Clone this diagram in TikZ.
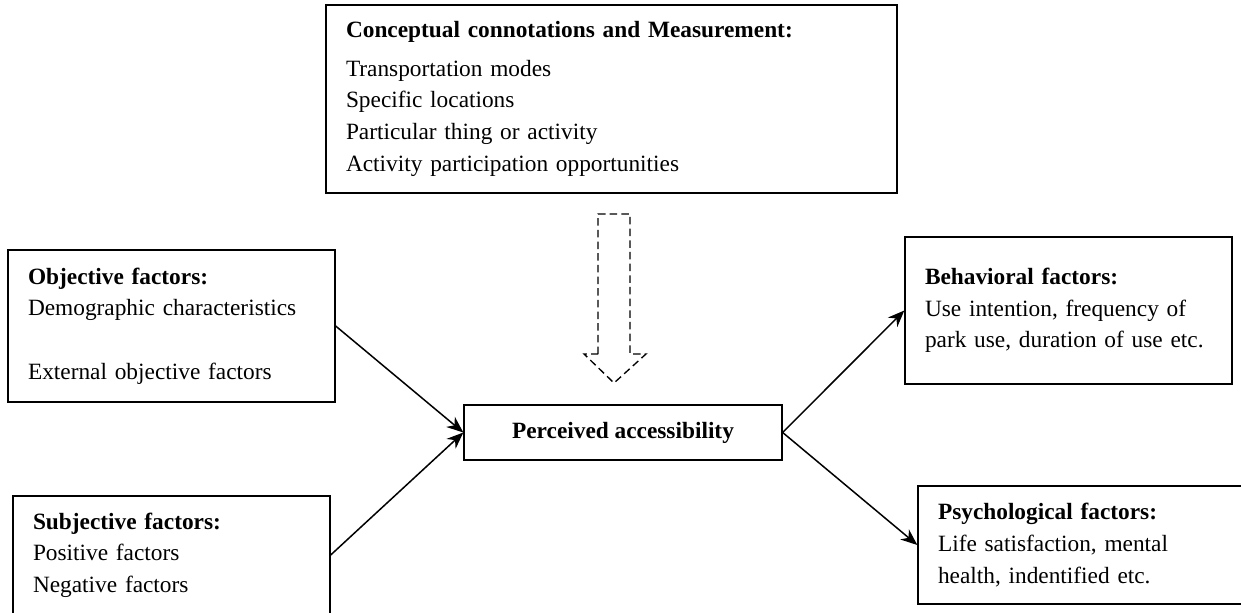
\documentclass[tikz,border=0pt]{standalone}
\usepackage{fontspec}
\setmainfont{Liberation Serif}
\usetikzlibrary{arrows.meta}

\tikzset{
  factor/.style={draw, line width=0.8pt, align=left, inner xsep=12pt, inner ysep=0pt,
                 font=\fontsize{14}{19}\selectfont},
  link/.style={line width=0.9pt, -{Stealth[length=10pt,width=8pt]}},
  hollow/.style={line width=0.8pt, dash pattern=on 4.5pt off 2.5pt},
}

\begin{document}
\begin{tikzpicture}[x=0.6pt,y=-0.6pt]

\useasboundingbox (0,0) rectangle (1241,613);

% boxes
\node[factor, text width=318.6pt, minimum width=342.6pt, minimum height=112.8pt] (conc) at (611.5,99)
  {\textbf{Conceptual connotations and Measurement:}\\[4pt]
   Transportation modes\\ Specific locations\\ Particular thing or activity\\
   Activity participation opportunities};

\node[factor, text width=172.2pt, minimum width=196.2pt, minimum height=91.2pt] (obj) at (171.5,326)
  {\textbf{Objective factors:}\\ Demographic characteristics\\[19pt] External objective factors};

\node[factor, text width=166.2pt, minimum width=190.2pt, minimum height=70.8pt] (subj) at (171.5,555)
  {\textbf{Subjective factors:}\\ Positive factors\\ Negative factors};

\node[factor, align=center, minimum width=190.8pt, minimum height=33pt] (pa) at (623,432.5)
  {\textbf{Perceived accessibility}};

\node[factor, text width=172.2pt, minimum width=196.2pt, minimum height=88.2pt] (beh) at (1068.5,310.5)
  {\textbf{Behavioral factors:}\\ Use intention, frequency of\\ park use, duration of use etc.};

\node[factor, text width=183pt, minimum width=207pt, minimum height=70.8pt] (psy) at (1090.5,545)
  {\textbf{Psychological factors:}\\ Life satisfaction, mental\\ health, indentified etc.};

% hollow dashed arrow
\draw[hollow] (598,354) -- (598,214) -- (630,214) -- (630,354) -- (646,354)
  -- (614,383) -- (584,354) -- cycle;

% connectors
\draw[link] (obj.east) -- (pa.west);
\draw[link] (subj.east) -- (pa.west);
\draw[link] (pa.east) -- (beh.west);
\draw[link] (pa.east) -- (psy.west);

\end{tikzpicture}
\end{document}
